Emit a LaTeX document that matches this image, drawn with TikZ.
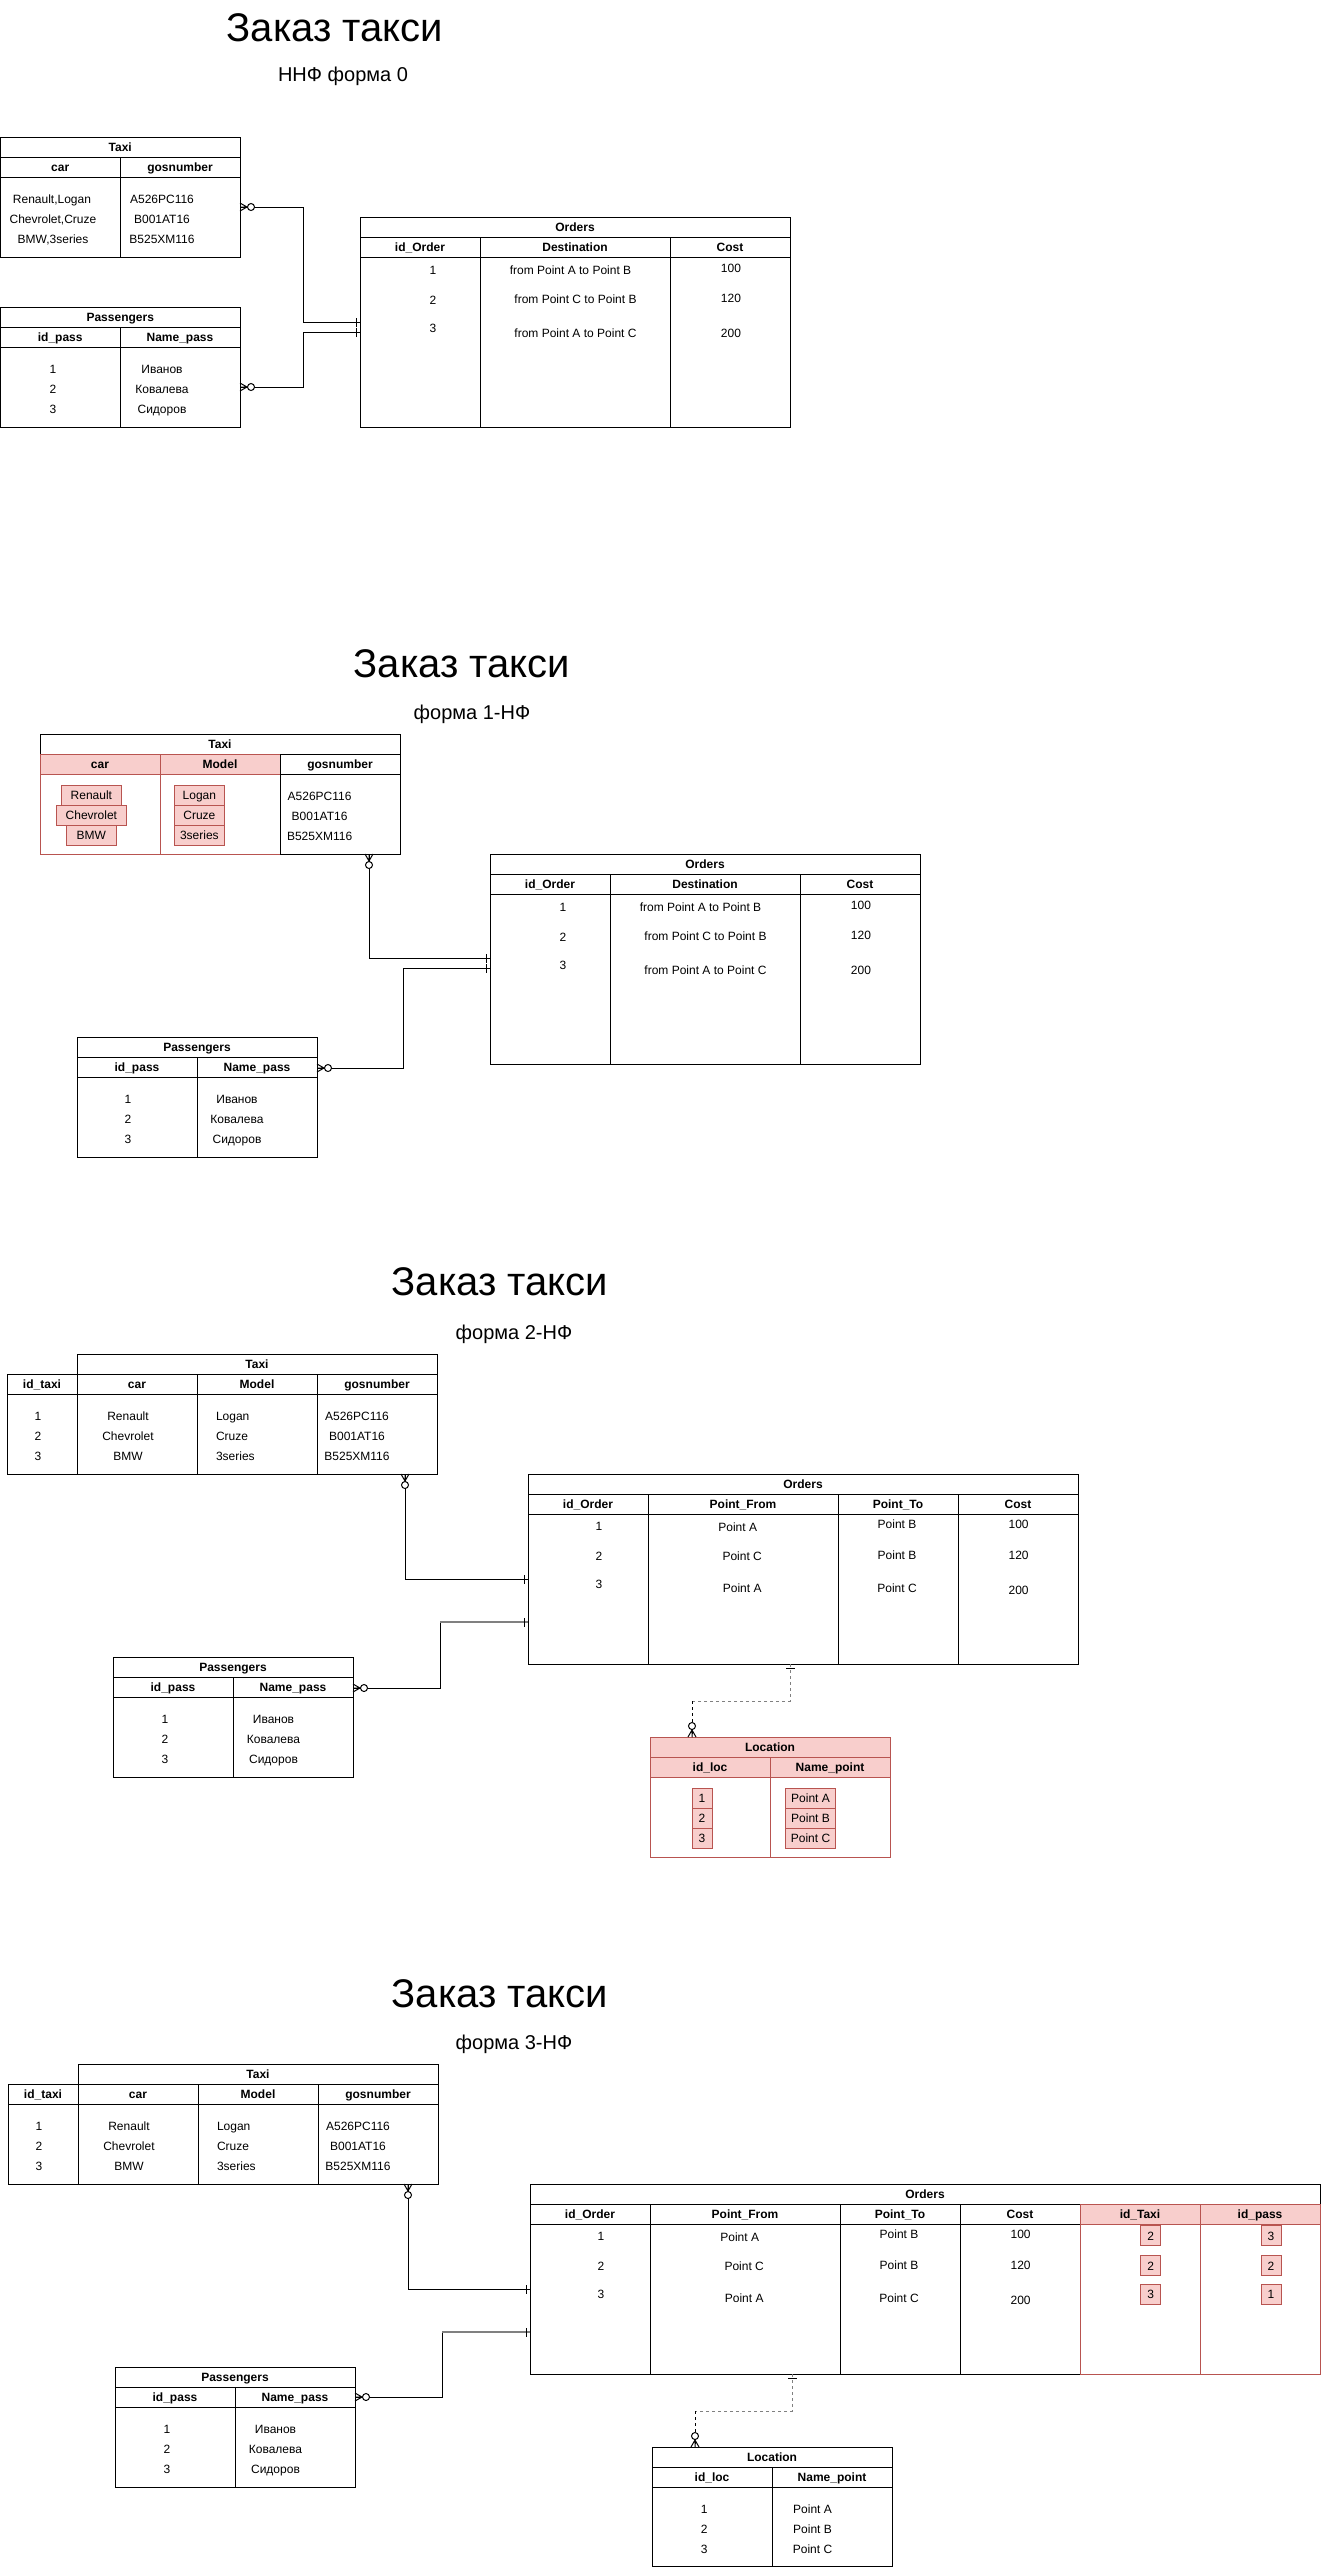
\documentclass[tikz,border=0pt]{standalone}
\usepackage{fontspec}
\setmainfont{Liberation Sans}
\definecolor{erred}{HTML}{B85450}
\definecolor{pinkf}{HTML}{F8CECC}
\definecolor{lgray}{HTML}{808080}
\newcommand{\mkhc}[6]{\node[hcell,#6,minimum width=#4pt] (#1) at (#2,#3) {#5};}
\newcommand{\mkbc}[6]{\node[bcell,#6,minimum width=#4pt,minimum height=#5pt] (#1) at (#2,#3) {};}
\newcommand{\mktx}[4]{\node[tx] (#1) at (#2,#3) {#4};}
\newcommand{\mktxw}[4]{\node[tx,anchor=west] (#1) at (#2,#3) {#4};}
\newcommand{\mkpb}[5]{\node[pbox,minimum width=#4pt] (#1) at (#2,#3) {#5};}
\newcommand{\erzm}[2]{\begin{scope}[shift={(#1)},rotate=#2]\draw[line width=1pt] (0,-4)--(7,0)--(0,4) (0,0)--(7.5,0);\draw[line width=1pt,fill=white] (11,0) circle[radius=3.5pt];\end{scope}}
\newcommand{\erone}[2]{\begin{scope}[shift={(#1)},rotate=#2]\draw[line width=1pt] (4,-4.5)--(4,4.5);\end{scope}}
\begin{document}
\begin{tikzpicture}[x=1pt,y=-1pt,
  every node/.style={inner sep=0pt,outer sep=0pt},
  hcell/.style={draw=black,fill=white,line width=1pt,anchor=north west,minimum height=20pt,font=\bfseries\fontsize{12}{14}\selectfont,text height=8.6pt,text depth=0pt},
  hred/.style={draw=erred,fill=pinkf},
  bcell/.style={draw=black,fill=white,line width=1pt,anchor=north west},
  bred/.style={draw=erred},
  tx/.style={font=\fontsize{12}{14}\selectfont,text height=8.6pt,text depth=0pt},
  pbox/.style={tx,draw=erred,fill=pinkf,line width=1pt,minimum height=20pt},
  ttl/.style={font=\fontsize{40}{48}\selectfont,text height=28.6pt,text depth=0pt},
  sub/.style={font=\fontsize{20}{24}\selectfont,text height=14.3pt,text depth=0pt},
  conn/.style={line width=1pt,draw=black},
  conng/.style={line width=1.6pt,draw=lgray},
  dashg/.style={line width=1pt,draw=lgray,dash pattern=on 3pt off 3pt},
  dashk/.style={line width=1pt,draw=black,dash pattern=on 3pt off 3pt}
]
\fill[white] (0,0) rectangle (1321,2568);
\useasboundingbox (0,0) rectangle (1321,2568);

%% ================= SECTION 1 =================
\node[ttl] (ttl1) at (335,27) {Заказ такси};
\node[sub] (sub1) at (343,74) {ННФ форма 0};
% Taxi
\mkhc{t1h}{0.5}{137}{239.5}{Taxi}{}
\mkhc{t1c}{0.5}{157}{119.5}{car}{}
\mkhc{t1g}{120}{157}{120}{gosnumber}{}
\mkbc{t1b1}{0.5}{177}{119.5}{80}{}
\mkbc{t1b2}{120}{177}{120}{80}{}
\mktx{t1x1}{52}{199}{Renault,Logan}
\mktx{t1x2}{53}{219}{Chevrolet,Cruze}
\mktx{t1x3}{53}{239}{BMW,3series}
\mktx{t1y1}{162}{199}{A526PC116}
\mktx{t1y2}{162}{219}{B001AT16}
\mktx{t1y3}{162}{239}{B525XM116}
% Passengers
\mkhc{p1h}{0.5}{307}{239.5}{Passengers}{}
\mkhc{p1c1}{0.5}{327}{119.5}{id\_pass}{}
\mkhc{p1c2}{120}{327}{120}{Name\_pass}{}
\mkbc{p1b1}{0.5}{347}{119.5}{80}{}
\mkbc{p1b2}{120}{347}{120}{80}{}
\mktx{p1x1}{53}{369}{1}
\mktx{p1x2}{53}{389}{2}
\mktx{p1x3}{53}{409}{3}
\mktx{p1y1}{162}{369}{Иванов}
\mktx{p1y2}{162}{389}{Ковалева}
\mktx{p1y3}{162}{409}{Сидоров}
% Orders
\mkhc{o1h}{360}{217}{430}{Orders}{}
\mkhc{o1c1}{360}{237}{120}{id\_Order}{}
\mkhc{o1c2}{480}{237}{190}{Destination}{}
\mkhc{o1c3}{670}{237}{120}{Cost}{}
\mkbc{o1b1}{360}{257}{120}{170}{}
\mkbc{o1b2}{480}{257}{190}{170}{}
\mkbc{o1b3}{670}{257}{120}{170}{}
\mktx{o1x1}{433}{270}{1}
\mktx{o1x2}{433}{300}{2}
\mktx{o1x3}{433}{328}{3}
\mktx{o1y1}{570.5}{270}{from Point A to Point B}
\mktx{o1y2}{575.5}{299}{from Point C to Point B}
\mktx{o1y3}{575.5}{333}{from Point A to Point C}
\mktx{o1z1}{731}{268}{100}
\mktx{o1z2}{731}{298}{120}
\mktx{o1z3}{731}{333}{200}
% connectors
\coordinate (k1a) at (240,207); \coordinate (k1b) at (360,322.5);
\coordinate (k1c) at (240,387); \coordinate (k1d) at (360,332.5);
\draw[conn] (k1a) -- ++(63,0) |- (k1b);
\draw[conn] (k1c) -- ++(63,0) |- (k1d);
\erzm{k1a}{0} \erzm{k1c}{0} \erone{k1b}{180} \erone{k1d}{180}

%% ================= SECTION 2 =================
\node[ttl] (ttl2) at (462,663) {Заказ такси};
\node[sub] (sub2) at (472,712) {форма 1-НФ};
% Taxi
\mkhc{t2h}{40}{734}{360}{Taxi}{}
\mkhc{t2c}{40}{754}{120}{car}{hred}
\mkhc{t2m}{160}{754}{120}{Model}{hred}
\mkbc{t2b1}{40}{774}{120}{80}{bred}
\mkbc{t2b2}{160}{774}{120}{80}{bred}
\mkhc{t2g}{280}{754}{120}{gosnumber}{}
\mkbc{t2b3}{280}{774}{120}{80}{}
\mkpb{t2p1}{91.4}{795.3}{60}{Renault}
\mkpb{t2p2}{91.4}{815.3}{70}{Chevrolet}
\mkpb{t2p3}{91.4}{835.3}{50}{BMW}
\mkpb{t2q1}{199.4}{795.3}{50}{Logan}
\mkpb{t2q2}{199.4}{815.3}{50}{Cruze}
\mkpb{t2q3}{199.4}{835.3}{50}{3series}
\mktx{t2y1}{319.6}{795.7}{A526PC116}
\mktx{t2y2}{319.6}{815.7}{B001AT16}
\mktx{t2y3}{319.6}{835.7}{B525XM116}
% Passengers
\mkhc{p2h}{77}{1037}{240}{Passengers}{}
\mkhc{p2c1}{77}{1057}{120}{id\_pass}{}
\mkhc{p2c2}{197}{1057}{120}{Name\_pass}{}
\mkbc{p2b1}{77}{1077}{120}{80}{}
\mkbc{p2b2}{197}{1077}{120}{80}{}
\mktx{p2x1}{128}{1099}{1}
\mktx{p2x2}{128}{1119}{2}
\mktx{p2x3}{128}{1139}{3}
\mktx{p2y1}{237}{1099}{Иванов}
\mktx{p2y2}{237}{1119}{Ковалева}
\mktx{p2y3}{237}{1139}{Сидоров}
% Orders
\mkhc{o2h}{490}{854}{430}{Orders}{}
\mkhc{o2c1}{490}{874}{120}{id\_Order}{}
\mkhc{o2c2}{610}{874}{190}{Destination}{}
\mkhc{o2c3}{800}{874}{120}{Cost}{}
\mkbc{o2b1}{490}{894}{120}{170}{}
\mkbc{o2b2}{610}{894}{190}{170}{}
\mkbc{o2b3}{800}{894}{120}{170}{}
\mktx{o2x1}{563}{907}{1}
\mktx{o2x2}{563}{937}{2}
\mktx{o2x3}{563}{965}{3}
\mktx{o2y1}{700.5}{907}{from Point A to Point B}
\mktx{o2y2}{705.5}{936}{from Point C to Point B}
\mktx{o2y3}{705.5}{970}{from Point A to Point C}
\mktx{o2z1}{861}{905}{100}
\mktx{o2z2}{861}{935}{120}
\mktx{o2z3}{861}{970}{200}
% connectors
\coordinate (k2a) at (369,854); \coordinate (k2b) at (490,958);
\coordinate (k2c) at (317,1068); \coordinate (k2d) at (490,968);
\draw[conn] (k2a) |- (k2b);
\draw[conn] (k2c) -- ++(86,0) |- (k2d);
\erzm{k2a}{-90} \erzm{k2c}{0} \erone{k2b}{180} \erone{k2d}{180}

%% ================= SECTION 3 =================
\node[ttl] (ttl3) at (500,1281) {Заказ такси};
\node[sub] (sub3) at (514,1332) {форма 2-НФ};
% Taxi
\mkhc{t3h}{77}{1354}{360}{Taxi}{}
\mkhc{t3c0}{7}{1374}{70}{id\_taxi}{}
\mkhc{t3c1}{77}{1374}{120}{car}{}
\mkhc{t3c2}{197}{1374}{120}{Model}{}
\mkhc{t3c3}{317}{1374}{120}{gosnumber}{}
\mkbc{t3b0}{7}{1394}{70}{80}{}
\mkbc{t3b1}{77}{1394}{120}{80}{}
\mkbc{t3b2}{197}{1394}{120}{80}{}
\mkbc{t3b3}{317}{1394}{120}{80}{}
\mktx{t3w1}{38}{1415.7}{1}
\mktx{t3w2}{38}{1435.7}{2}
\mktx{t3w3}{38}{1455.7}{3}
\mktx{t3x1}{128}{1415.7}{Renault}
\mktx{t3x2}{128}{1435.7}{Chevrolet}
\mktx{t3x3}{128}{1455.7}{BMW}
\mktxw{t3y1}{216}{1415.7}{Logan}
\mktxw{t3y2}{216}{1435.7}{Cruze}
\mktxw{t3y3}{216}{1455.7}{3series}
\mktx{t3z1}{357}{1415.7}{A526PC116}
\mktx{t3z2}{357}{1435.7}{B001AT16}
\mktx{t3z3}{357}{1455.7}{B525XM116}
% Passengers
\mkhc{p3h}{113}{1657}{240}{Passengers}{}
\mkhc{p3c1}{113}{1677}{120}{id\_pass}{}
\mkhc{p3c2}{233}{1677}{120}{Name\_pass}{}
\mkbc{p3b1}{113}{1697}{120}{80}{}
\mkbc{p3b2}{233}{1697}{120}{80}{}
\mktx{p3x1}{165}{1719}{1}
\mktx{p3x2}{165}{1739}{2}
\mktx{p3x3}{165}{1759}{3}
\mktx{p3y1}{273.5}{1719}{Иванов}
\mktx{p3y2}{273.5}{1739}{Ковалева}
\mktx{p3y3}{273.5}{1759}{Сидоров}
% Orders
\mkhc{o3h}{528}{1474}{550}{Orders}{}
\mkhc{o3c1}{528}{1494}{120}{id\_Order}{}
\mkhc{o3c2}{648}{1494}{190}{Point\_From}{}
\mkhc{o3c3}{838}{1494}{120}{Point\_To}{}
\mkhc{o3c4}{958}{1494}{120}{Cost}{}
\mkbc{o3b1}{528}{1514}{120}{150}{}
\mkbc{o3b2}{648}{1514}{190}{150}{}
\mkbc{o3b3}{838}{1514}{120}{150}{}
\mkbc{o3b4}{958}{1514}{120}{150}{}
\mktx{o3w1}{599}{1525.7}{1}
\mktx{o3w2}{599}{1555.7}{2}
\mktx{o3w3}{599}{1584}{3}
\mktx{o3x1}{737.7}{1526.7}{Point A}
\mktx{o3x2}{742.2}{1555.7}{Point C}
\mktx{o3x3}{742.2}{1587.7}{Point A}
\mktx{o3y1}{897}{1524.3}{Point B}
\mktx{o3y2}{897}{1555}{Point B}
\mktx{o3y3}{897}{1587.7}{Point C}
\mktx{o3z1}{1018.6}{1524}{100}
\mktx{o3z2}{1018.6}{1555}{120}
\mktx{o3z3}{1018.6}{1590}{200}
% Location
\mkhc{l3h}{650}{1737}{240}{Location}{hred}
\mkhc{l3c1}{650}{1757}{120}{id\_loc}{hred}
\mkhc{l3c2}{770}{1757}{120}{Name\_point}{hred}
\mkbc{l3b1}{650}{1777}{120}{80}{bred}
\mkbc{l3b2}{770}{1777}{120}{80}{bred}
\mkpb{l3p1}{702}{1798.3}{20}{1}
\mkpb{l3p2}{702}{1818.3}{20}{2}
\mkpb{l3p3}{702}{1838.3}{20}{3}
\mkpb{l3q1}{810.5}{1798.3}{50}{Point A}
\mkpb{l3q2}{810.5}{1818.3}{50}{Point B}
\mkpb{l3q3}{810.5}{1838.3}{50}{Point C}
% connectors
\coordinate (k3a) at (405,1474); \coordinate (k3b) at (528,1579);
\coordinate (k3c) at (353,1688); \coordinate (k3e) at (440,1622); \coordinate (k3d) at (528,1622);
\draw[conn] (k3a) |- (k3b);
\draw[conn] (k3c) -| (k3e);
\draw[conng] (k3e) -- (k3d);
\erzm{k3a}{-90} \erzm{k3c}{0} \erone{k3b}{180} \erone{k3d}{180}
\coordinate (k3f) at (790,1664); \coordinate (k3h) at (692,1701); \coordinate (k3g) at (692,1737);
\draw[dashg] (k3f) |- (k3h);
\draw[dashk] (k3h) -- (k3g);
\erone{k3f}{-90} \erzm{k3g}{90}

%% ================= SECTION 4 =================
\node[ttl] (ttl4) at (500,1993) {Заказ такси};
\node[sub] (sub4) at (514,2042) {форма 3-НФ};
% Taxi
\mkhc{t4h}{78}{2064}{360}{Taxi}{}
\mkhc{t4c0}{8}{2084}{70}{id\_taxi}{}
\mkhc{t4c1}{78}{2084}{120}{car}{}
\mkhc{t4c2}{198}{2084}{120}{Model}{}
\mkhc{t4c3}{318}{2084}{120}{gosnumber}{}
\mkbc{t4b0}{8}{2104}{70}{80}{}
\mkbc{t4b1}{78}{2104}{120}{80}{}
\mkbc{t4b2}{198}{2104}{120}{80}{}
\mkbc{t4b3}{318}{2104}{120}{80}{}
\mktx{t4w1}{39}{2125.7}{1}
\mktx{t4w2}{39}{2145.7}{2}
\mktx{t4w3}{39}{2165.7}{3}
\mktx{t4x1}{129}{2125.7}{Renault}
\mktx{t4x2}{129}{2145.7}{Chevrolet}
\mktx{t4x3}{129}{2165.7}{BMW}
\mktxw{t4y1}{217}{2125.7}{Logan}
\mktxw{t4y2}{217}{2145.7}{Cruze}
\mktxw{t4y3}{217}{2165.7}{3series}
\mktx{t4z1}{358}{2125.7}{A526PC116}
\mktx{t4z2}{358}{2145.7}{B001AT16}
\mktx{t4z3}{358}{2165.7}{B525XM116}
% Passengers
\mkhc{p4h}{115}{2367}{240}{Passengers}{}
\mkhc{p4c1}{115}{2387}{120}{id\_pass}{}
\mkhc{p4c2}{235}{2387}{120}{Name\_pass}{}
\mkbc{p4b1}{115}{2407}{120}{80}{}
\mkbc{p4b2}{235}{2407}{120}{80}{}
\mktx{p4x1}{167}{2429}{1}
\mktx{p4x2}{167}{2449}{2}
\mktx{p4x3}{167}{2469}{3}
\mktx{p4y1}{275.5}{2429}{Иванов}
\mktx{p4y2}{275.5}{2449}{Ковалева}
\mktx{p4y3}{275.5}{2469}{Сидоров}
% Orders
\mkhc{o4h}{530}{2184}{790}{Orders}{}
\mkhc{o4c1}{530}{2204}{120}{id\_Order}{}
\mkhc{o4c2}{650}{2204}{190}{Point\_From}{}
\mkhc{o4c3}{840}{2204}{120}{Point\_To}{}
\mkhc{o4c4}{960}{2204}{120}{Cost}{}
\mkbc{o4b1}{530}{2224}{120}{150}{}
\mkbc{o4b2}{650}{2224}{190}{150}{}
\mkbc{o4b3}{840}{2224}{120}{150}{}
\mkbc{o4b4}{960}{2224}{120}{150}{}
\mkhc{o4c5}{1080}{2204}{120}{id\_Taxi}{hred}
\mkhc{o4c6}{1200}{2204}{120}{id\_pass}{hred}
\mkbc{o4b5}{1080}{2224}{120}{150}{bred}
\mkbc{o4b6}{1200}{2224}{120}{150}{bred}
\mktx{o4w1}{601}{2235.7}{1}
\mktx{o4w2}{601}{2265.7}{2}
\mktx{o4w3}{601}{2294}{3}
\mktx{o4x1}{739.7}{2236.7}{Point A}
\mktx{o4x2}{744.2}{2265.7}{Point C}
\mktx{o4x3}{744.2}{2297.7}{Point A}
\mktx{o4y1}{899}{2234.3}{Point B}
\mktx{o4y2}{899}{2265}{Point B}
\mktx{o4y3}{899}{2297.7}{Point C}
\mktx{o4z1}{1020.6}{2234}{100}
\mktx{o4z2}{1020.6}{2265}{120}
\mktx{o4z3}{1020.6}{2300}{200}
\mkpb{o4p1}{1150.8}{2235.7}{20}{2}
\mkpb{o4p2}{1150.8}{2265.7}{20}{2}
\mkpb{o4p3}{1150.8}{2294.3}{20}{3}
\mkpb{o4q1}{1271}{2235.7}{20}{3}
\mkpb{o4q2}{1271}{2265.7}{20}{2}
\mkpb{o4q3}{1271}{2294.3}{20}{1}
% Location
\mkhc{l4h}{652}{2447}{240}{Location}{}
\mkhc{l4c1}{652}{2467}{120}{id\_loc}{}
\mkhc{l4c2}{772}{2467}{120}{Name\_point}{}
\mkbc{l4b1}{652}{2487}{120}{79.5}{}
\mkbc{l4b2}{772}{2487}{120}{79.5}{}
\mktx{l4x1}{704.3}{2509}{1}
\mktx{l4x2}{704.3}{2529}{2}
\mktx{l4x3}{704.3}{2549}{3}
\mktx{l4y1}{812.5}{2509}{Point A}
\mktx{l4y2}{812.5}{2529}{Point B}
\mktx{l4y3}{812.5}{2549}{Point C}
% connectors
\coordinate (k4a) at (408,2184); \coordinate (k4b) at (530,2289);
\coordinate (k4c) at (355,2397); \coordinate (k4e) at (442,2332); \coordinate (k4d) at (530,2332);
\draw[conn] (k4a) |- (k4b);
\draw[conn] (k4c) -| (k4e);
\draw[conng] (k4e) -- (k4d);
\erzm{k4a}{-90} \erzm{k4c}{0} \erone{k4b}{180} \erone{k4d}{180}
\coordinate (k4f) at (792,2374); \coordinate (k4h) at (695,2411); \coordinate (k4g) at (695,2447);
\draw[dashg] (k4f) |- (k4h);
\draw[dashk] (k4h) -- (k4g);
\erone{k4f}{-90} \erzm{k4g}{90}
\end{tikzpicture}
\end{document}
